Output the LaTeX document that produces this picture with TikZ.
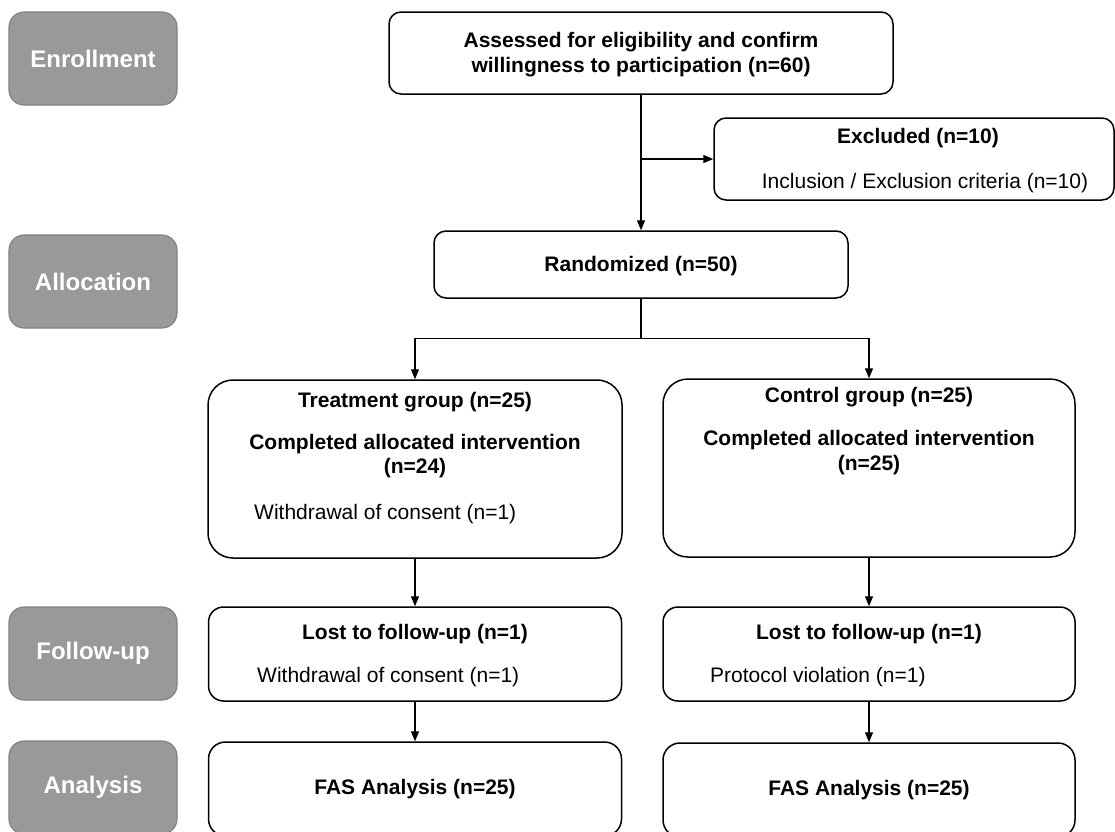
\documentclass[tikz,border=0pt]{standalone}
\usepackage{fontspec}
\setmainfont{Liberation Sans}
\usetikzlibrary{arrows.meta}
\begin{document}
\begin{tikzpicture}[x=1pt,y=-1pt,
  stage/.style={draw=black!50,line width=1.1pt,fill=black!40,rounded corners=15pt,
    minimum width=168pt,minimum height=93pt,inner sep=0pt,text=white,
    font=\fontsize{24}{28}\selectfont\bfseries},
  box/.style={draw=black,line width=1.5pt,fill=white,inner sep=0pt},
  bt/.style={inner sep=0pt,font=\fontsize{21}{25}\selectfont\bfseries},
  rt/.style={inner sep=0pt,font=\fontsize{21}{25}\selectfont},
  arr/.style={line width=1.3pt,-{Triangle[length=10pt,width=8pt]}},
  ln/.style={line width=1.3pt}]
\useasboundingbox (0,0) rectangle (1115,831);
\clip (0,0) rectangle (1115,831);
\fill[white] (0,0) rectangle (1115,831);

% stage labels
\node[stage] (enr) at (93,58.5) {Enrollment};
\node[stage] (alo) at (93,281.5) {Allocation};
\node[stage] (fol) at (93,653.5) {Follow-up};
\node[stage] (ana) at (93,787.5) {Analysis};

% boxes
\node[box,rounded corners=12pt,minimum width=504pt,minimum height=82pt] (assess) at (641,53) {};
\node[bt] (assess1) at (641,42) {Assessed for eligibility and confirm};
\node[bt] (assess2) at (641,67) {willingness to participation (n=60)};

\node[box,rounded corners=12pt,minimum width=400pt,minimum height=82pt] (excl) at (914,159) {};
\node[bt] (excl1) at (918,138) {Excluded (n=10)};
\node[rt] (excl2) at (925,183) {Inclusion / Exclusion criteria (n=10)};

\node[box,rounded corners=12pt,minimum width=414pt,minimum height=67pt] (rand) at (641,264.5) {};
\node[bt] (rand1) at (641,266) {Randomized (n=50)};

\node[box,rounded corners=25pt,minimum width=414pt,minimum height=178pt] (treat) at (415,469) {};
\node[bt] (treat1) at (415,402) {Treatment group (n=25)};
\node[bt] (treat2) at (415,444) {Completed allocated intervention};
\node[bt] (treat3) at (415,468) {(n=24)};
\node[rt,anchor=west] (treat4) at (254,514) {Withdrawal of consent (n=1)};

\node[box,rounded corners=25pt,minimum width=412pt,minimum height=178pt] (ctrl) at (869,468) {};
\node[bt] (ctrl1) at (869,397) {Control group (n=25)};
\node[bt] (ctrl2) at (869,440) {Completed allocated intervention};
\node[bt] (ctrl3) at (869,465) {(n=25)};

\node[box,rounded corners=15pt,minimum width=413pt,minimum height=94pt] (lostl) at (415,654) {};
\node[bt] (lostl1) at (415,634) {Lost to follow-up (n=1)};
\node[rt,anchor=west] (lostl2) at (257,677) {Withdrawal of consent (n=1)};

\node[box,rounded corners=15pt,minimum width=412pt,minimum height=94pt] (lostr) at (869,654) {};
\node[bt] (lostr1) at (869,634) {Lost to follow-up (n=1)};
\node[rt,anchor=west] (lostr2) at (710,677) {Protocol violation (n=1)};

\node[box,rounded corners=17pt,minimum width=413pt,minimum height=94pt] (fasl) at (415,789) {};
\node[bt] (fasl1) at (415,789) {FAS Analysis (n=25)};

\node[box,rounded corners=17pt,minimum width=412pt,minimum height=94pt] (fasr) at (869,790) {};
\node[bt] (fasr1) at (869,790) {FAS Analysis (n=25)};

% connectors
\draw[arr] (assess.south) -- (rand.north);
\draw[arr] (assess.south |- excl.west) -- (excl.west);
\draw[ln] (rand.south) -- ++(0,40) coordinate (split);
\draw[arr] (split) -| (treat.north);
\draw[arr] (split) -| (ctrl.north);
\draw[arr] (treat.south) -- (lostl.north);
\draw[arr] (ctrl.south) -- (lostr.north);
\draw[arr] (lostl.south) -- (fasl.north);
\draw[arr] (lostr.south) -- (fasr.north);
\end{tikzpicture}
\end{document}
